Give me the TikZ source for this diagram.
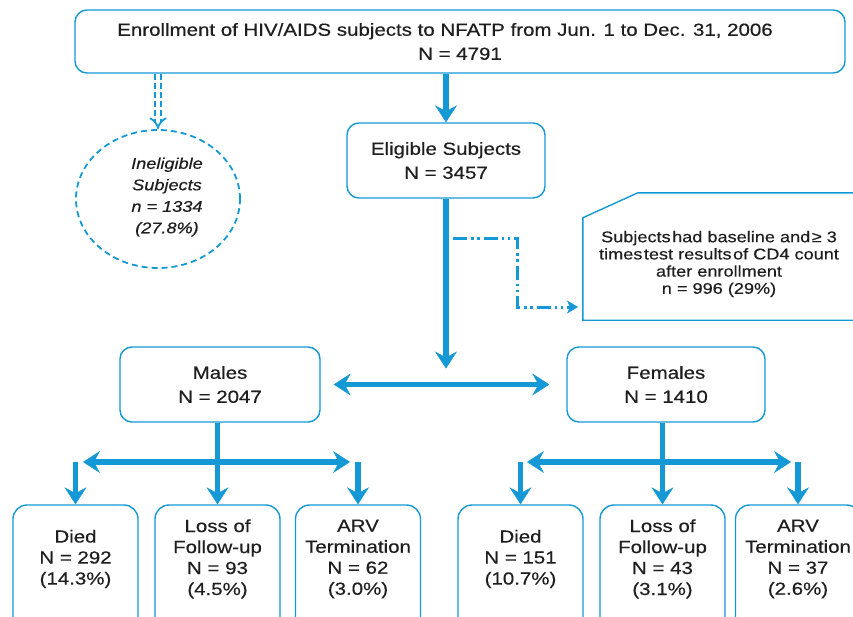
\documentclass[tikz,border=0pt]{standalone}
\usepackage{fontspec}
\setmainfont{Liberation Sans}[FakeStretch=1.17,FakeBold=0.4]
\usetikzlibrary{arrows.meta,shapes.geometric}
\definecolor{nfblue}{RGB}{20,153,214}
\definecolor{nftext}{RGB}{30,30,30}
\tikzstyle{box}=[draw=nfblue, line width=1.4pt, rounded corners=12pt, fill=white, text=nftext, align=center, inner sep=0pt, font=\fontsize{17.5}{24}\selectfont]
\tikzstyle{leaf}=[draw=nfblue, line width=1.4pt, rounded corners=14pt, minimum width=125pt, minimum height=145pt, inner sep=0pt]
\tikzstyle{leaftext}=[text=nftext, align=center, font=\fontsize{17.5}{21}\selectfont]
\tikzstyle{flow}=[draw=nfblue, line width=5.5pt, -{Stealth[length=17pt,width=22pt,inset=6pt,line width=0.5pt]}]
\tikzstyle{biflow}=[flow, {Stealth[length=17pt,width=22pt,inset=6pt,line width=0.5pt]}-{Stealth[length=17pt,width=22pt,inset=6pt,line width=0.5pt]}]
\tikzstyle{dashdot}=[draw=nfblue, line width=3pt, dash pattern=on 14pt off 4pt on 2.5pt off 3.5pt on 2.5pt off 4pt, -{Stealth[length=11pt,width=13pt,inset=3pt,line width=0.5pt]}]

\begin{document}
\begin{tikzpicture}[x=1pt, y=-1pt]
	\useasboundingbox (0,0) rectangle (853,616);
	\clip (0,0) rectangle (853,616);

	% Enrollment and the first split
	\node[box, minimum width=770pt, minimum height=63pt] (enrol) at (460,41.5)
		{Enrollment of HIV/AIDS subjects to NFATP from Jun. 1 to Dec. 31, 2006\hspace*{30pt}\\N = 4791};
	\node[box, minimum width=198pt, minimum height=75pt] (elig) at (446,160.5)
		{Eligible Subjects\\N = 3457};
	\node[ellipse, draw=nfblue, line width=1.8pt, dash pattern=on 6pt off 4pt,
		minimum width=164pt, minimum height=138pt, inner sep=0pt] (inelig) at (158,199) {};
	\node[text=nftext, align=center, font=\itshape\fontsize{15.5}{21.5}\selectfont] (inelig-t) at (167,197)
		{Ineligible\\Subjects\\n = 1334\\(27.8\%)};

	\draw[flow] (enrol.south -| elig.north) -- (elig.north);
	\draw[nfblue, line width=1.8pt, double=white, double distance=4pt,
		dash pattern=on 6pt off 3pt, -{Implies}] (enrol.south -| inelig.north) -- (inelig.north);

	% CD4 subgroup
	\node[minimum width=320pt, minimum height=127pt, inner sep=0pt] (cd4box) at (743,256.5) {};
	\draw[nfblue, line width=1.4pt] (cd4box.south east) -- (cd4box.south west)
		-- ([yshift=-25pt]cd4box.north west) -- ([xshift=55pt]cd4box.north west) -- (cd4box.north east);
	\node[text=nftext, align=center, font=\fontsize{15.5}{17.2}\selectfont] (cd4) at (719,264)
		{Subjects\hspace{1.5pt}had baseline and\hspace{1.5pt}≥ 3\\times\hspace{1.5pt}test results\hspace{1.5pt}of CD4 count\\after enrollment\\n = 996 (29\%)};
	\coordinate (dd0) at (453,238);
	\coordinate (dd1) at (517,307);
	\coordinate (cd4in) at (578,307);
	\draw[dashdot] (dd0) -| (dd1) -- (cd4in);

	% Males and females
	\node[box, minimum width=200pt, minimum height=75pt] (males) at (220,384.5) {Males\\N = 2047};
	\node[box, minimum width=198pt, minimum height=75pt] (females) at (666,384.5) {Females\\N = 1410};
	\draw[flow, shorten >=16pt] (elig.south) -- (elig.south |- males.east);
	\draw[biflow, shorten <=13pt, shorten >=17pt] (males.east) -- (females.west);

	% Outcomes
	\foreach \pos/\name/\txt in {75.5/mdied/{Died\\N = 292\\(14.3\%)},
		217.5/mloss/{Loss of\\Follow-up\\N = 93\\(4.5\%)},
		358/marv/{ARV\\Termination\\N = 62\\(3.0\%)},
		520.5/fdied/{Died\\N = 151\\(10.7\%)},
		662.5/floss/{Loss of\\Follow-up\\N = 43\\(3.1\%)},
		798/farv/{ARV\\Termination\\N = 37\\(2.6\%)}}
	{
		\node[leaf] (\name) at (\pos,577.5) {};
		\node[leaftext] (\name-t) at (\pos,559) {\txt};
	}

	\coordinate (mbarL) at (83,462);
	\coordinate (mbarR) at (350,462);
	\coordinate (fbarL) at (527,462);
	\coordinate (fbarR) at (791,462);
	\draw[flow] (males.south -| mloss.north) -- (mloss.north);
	\draw[flow] (females.south -| floss.north) -- (floss.north);
	\draw[biflow] (mbarL) -- (mbarR);
	\draw[biflow] (fbarL) -- (fbarR);
	\foreach \name/\bar in {mdied/mbarL, marv/mbarR, fdied/fbarL, farv/fbarR}
		\draw[flow] (\name.north |- \bar) -- (\name.north);
\end{tikzpicture}
\end{document}
